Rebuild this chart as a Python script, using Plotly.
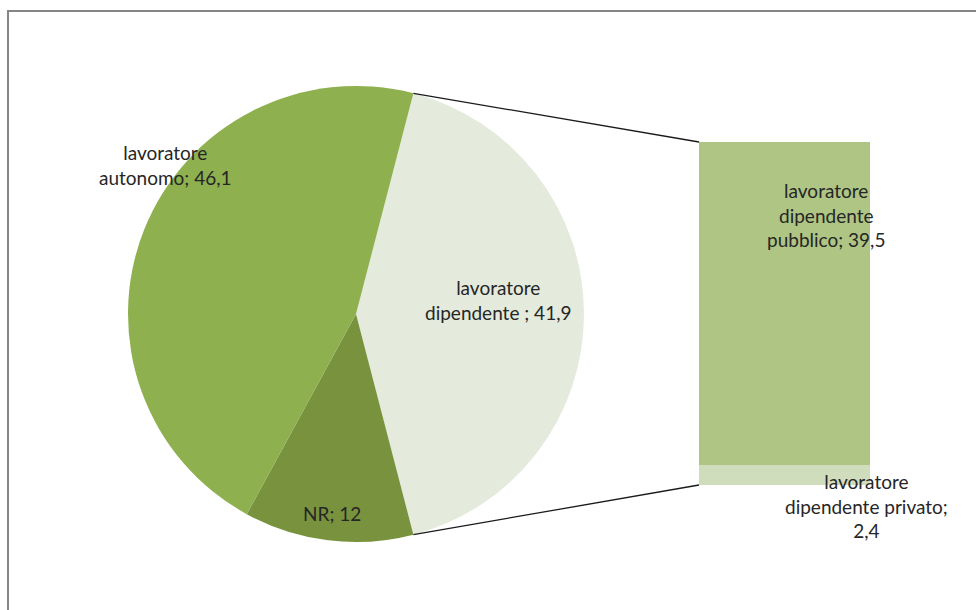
import math
import plotly.graph_objects as go

# ---- data ----
pie_labels = ["lavoratore dipendente ", "NR", "lavoratore autonomo"]
pie_values = [41.9, 12, 46.1]
pie_text = ["lavoratore<br>dipendente ; 41,9", "NR; 12", "lavoratore<br>autonomo; 46,1"]
bar_labels = ["lavoratore dipendente privato", "lavoratore dipendente pubblico"]
bar_values = [2.4, 39.5]
bar_text = ["lavoratore<br>dipendente privato;<br>2,4", "lavoratore<br>dipendente<br>pubblico; 39,5"]

# ---- layout geometry (pixels) ----
W, H = 976, 610
CX, CY, R = 356, 314, 228
BAR_X0, BAR_X1, BAR_TOP, BAR_BOT = 699, 870, 142, 485

pie_colors = ["#E4EADC", "#78923D", "#8EB04F"]
bar_colors = ["#D0DDBC", "#AEC584"]
FONT = "Lato, Open Sans, sans-serif"
TXT = "#262626"
FS = 19

def px(x):
    return x / W

def py(y):
    return 1 - y / H

total = sum(pie_values)
half_angle = 360 * pie_values[0] / total / 2  # degrees from horizontal
rotation = 90 - half_angle

fig = go.Figure()
fig.add_trace(go.Pie(
    labels=pie_labels, values=pie_values, sort=False, direction="clockwise",
    rotation=rotation, marker=dict(colors=pie_colors, line=dict(width=0)),
    textinfo="none", hoverinfo="label+value", showlegend=False,
    domain=dict(x=[px(CX - R), px(CX + R)], y=[py(CY + R), py(CY - R)]),
))

for lab, val, col in zip(bar_labels, bar_values, bar_colors):
    fig.add_trace(go.Bar(x=[0], y=[val], name=lab, marker=dict(color=col, line=dict(width=0)),
                         width=1, showlegend=False, hoverinfo="name+y"))

# connector lines from pie slice edges to bar corners
a = math.radians(half_angle)
top_pt = (CX + R * math.cos(a), CY - R * math.sin(a))
bot_pt = (CX + R * math.cos(a), CY + R * math.sin(a))
shapes = [
    dict(type="line", xref="paper", yref="paper", x0=px(top_pt[0]), y0=py(top_pt[1]),
         x1=px(BAR_X0), y1=py(BAR_TOP), line=dict(color="#1a1a1a", width=1.3)),
    dict(type="line", xref="paper", yref="paper", x0=px(bot_pt[0]), y0=py(bot_pt[1]),
         x1=px(BAR_X0), y1=py(BAR_BOT), line=dict(color="#1a1a1a", width=1.3)),
    dict(type="rect", xref="paper", yref="paper", x0=px(8), y0=-0.05, x1=1.05, y1=py(11),
         line=dict(color="#868686", width=2), fillcolor="rgba(0,0,0,0)"),
]

label_pos = [(498, 300), (332, 513), (165, 165)]
anns = []
for t, (x, y) in zip(pie_text, label_pos):
    anns.append(dict(text=t, x=px(x), y=py(y), xref="paper", yref="paper", showarrow=False,
                     xanchor="center", yanchor="middle", align="center",
                     font=dict(family=FONT, size=FS, color=TXT)))
bar_pos = [(866, 506), (826, 215)]
for t, (x, y) in zip(bar_text, bar_pos):
    anns.append(dict(text=t, x=px(x), y=py(y), xref="paper", yref="paper", showarrow=False,
                     xanchor="center", yanchor="middle", align="center",
                     font=dict(family=FONT, size=FS, color=TXT)))

fig.update_layout(
    width=W, height=H, margin=dict(l=0, r=0, t=0, b=0),
    paper_bgcolor="white", plot_bgcolor="rgba(0,0,0,0)",
    barmode="stack", bargap=0,
    xaxis=dict(domain=[px(BAR_X0), px(BAR_X1)], range=[-0.5, 0.5], visible=False, fixedrange=True),
    yaxis=dict(domain=[py(BAR_BOT), py(BAR_TOP)], range=[0, sum(bar_values)], visible=False, fixedrange=True),
    shapes=shapes, annotations=anns,
    font=dict(family=FONT),
)

fig.write_html("out.html", config={"displayModeBar": False},
               post_script="document.body.style.margin='0';document.body.style.overflow='hidden';")
